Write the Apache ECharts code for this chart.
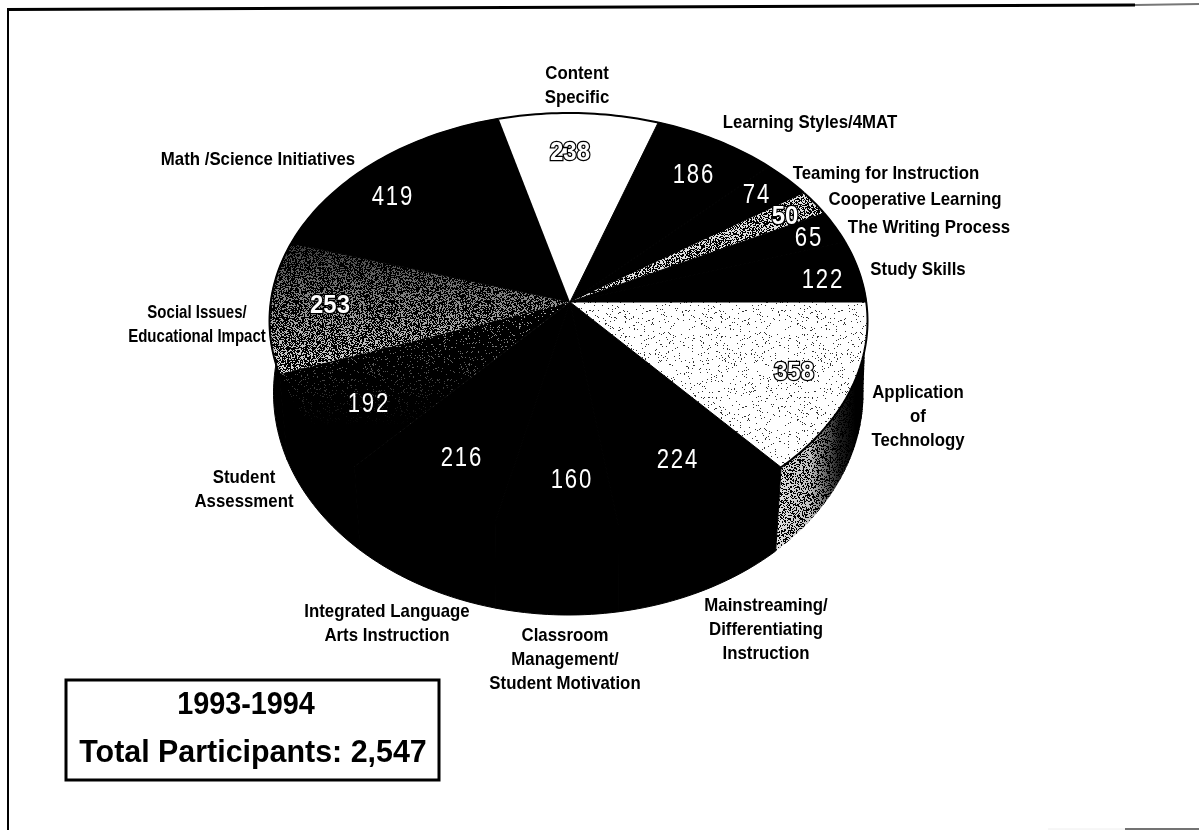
<!DOCTYPE html>
<html lang="en">
<head>
  <meta charset="UTF-8">
  <title>Total Participants 1993-1994</title>
  <script src="https://cdn.jsdelivr.net/npm/echarts@6/dist/echarts.min.js"></script>
  <style>
    * { margin: 0; padding: 0; }
    body { background: #fff; }
    #main { width: 1199px; height: 830px; }
  </style>
</head>
<body>
  <div id="main"></div>
  <script>
    // data, clockwise from 3 o'clock
    var categories = [
      'Application\nof\nTechnology',
      'Mainstreaming/\nDifferentiating\nInstruction',
      'Classroom\nManagement/\nStudent Motivation',
      'Integrated Language\nArts Instruction',
      'Student\nAssessment',
      'Social Issues/\nEducational Impact',
      'Math /Science Initiatives',
      'Content\nSpecific',
      'Learning Styles/4MAT',
      'Teaming for Instruction',
      'Cooperative Learning',
      'The Writing Process',
      'Study Skills'
    ];
    var values = [358, 224, 160, 216, 192, 253, 419, 238, 186, 74, 50, 65, 122];
    var boxLines = ['1993-1994', 'Total Participants: 2,547'];

    // label layout, same order as categories
    var namePos = [[918, 417], [766, 630], [565, 660], [387, 624], [244, 490], [197, 325], [258, 160], [577, 86], [810, 123], [886, 174], [915, 200], [929, 228], [918, 270]];
    var nameScale = [0.885, 0.885, 0.885, 0.885, 0.885, 0.79, 0.885, 0.885, 0.885, 0.885, 0.885, 0.885, 0.885];
    var valuePos = [[794, 373], [677, 461], [571, 481], [461, 459], [368, 405], [330, 306], [392, 198], [570, 153], [693, 176], [756, 196], [785, 217], [808, 239], [822, 281]];
    var outlined = [true, false, false, false, false, true, false, true, false, false, true, false, false];

    // pie geometry, the rim is a true ellipse but the apex sits above its centre (perspective)
    var apex = [570, 302];
    var top_ = { cx: 568.5, cy: 321, rx: 299, ry: 208 };
    var bottom_ = { cx: 568.5, cy: 393, rx: 295, ry: 222 };
    var depth = 88;
    var deg = Math.PI / 180;

    // speckled fills, so the greys look like the scan
    function speckle(density, dark, light) {
      var size = 96;
      var c = document.createElement('canvas');
      c.width = c.height = size;
      var ctx = c.getContext('2d');
      ctx.fillStyle = light;
      ctx.fillRect(0, 0, size, size);
      ctx.fillStyle = dark;
      for (var x = 0; x < size; x++) {
        for (var y = 0; y < size; y++) {
          var h = Math.sin(x * 12.9898 + y * 78.233) * 43758.5453;
          if (h - Math.floor(h) < density) ctx.fillRect(x, y, 1, 1);
        }
      }
      return { image: c, repeat: 'repeat' };
    }

    var fills = [
      speckle(0.05, '#333', '#fff'),
      '#000',
      '#000',
      '#000',
      speckle(0.93, '#000', '#bbb'),
      speckle(0.58, '#000', '#ddd'),
      '#000',
      '#fff',
      '#000',
      '#000',
      speckle(0.5, '#000', '#ddd'),
      '#000',
      '#000'
    ];
    var wallFill = speckle(0.4, '#000', '#e4e4e4');

    var total = values.reduce(function (a, b) { return a + b; }, 0);

    function angleOf(i) {
      var sum = 0;
      for (var k = 0; k < i; k++) sum += values[k];
      return sum / total * Math.PI * 2;
    }

    // the drawn pie is a little off true, pull the angles the way the picture has them
    function warp(a) {
      if (a < Math.PI / 2) return a - 4.6 * deg * Math.sin(2 * a);
      if (a > Math.PI) return a + 1.5 * deg * Math.sin(a);
      return a;
    }

    // where the ray from the apex at angle a meets the ellipse e
    function rimPoint(a, e, ox, oy) {
      var w = warp(a);
      var dx = Math.cos(w) * 299;
      var dy = Math.sin(w) * (Math.sin(w) > 0 ? 227 : 205);
      var fx = (ox - e.cx) / e.rx, fy = (oy - e.cy) / e.ry;
      var gx = dx / e.rx, gy = dy / e.ry;
      var A = gx * gx + gy * gy, B = 2 * (fx * gx + fy * gy), C = fx * fx + fy * fy - 1;
      var t = (-B + Math.sqrt(B * B - 4 * A * C)) / (2 * A);
      return [ox + dx * t, oy + dy * t];
    }

    function arc(a0, a1, e, ox, oy) {
      var pts = [];
      var n = Math.max(2, Math.ceil((a1 - a0) / 0.02));
      for (var j = 0; j <= n; j++) pts.push(rimPoint(a0 + (a1 - a0) * j / n, e, ox, oy));
      return pts;
    }

    function renderWall(params, api) {
      var i = api.value(0);
      var a0 = angleOf(i), a1 = angleOf(i + 1);
      if (a0 > Math.PI * 1.15) return null;
      a1 = Math.min(a1, Math.PI * 1.15);
      var pts = arc(a0, a1, top_, apex[0], apex[1])
        .concat(arc(a0, a1, bottom_, apex[0], apex[1] + depth).reverse());
      if (i !== 0) {
        return { type: 'polygon', shape: { points: pts }, style: { fill: '#000', stroke: '#000', lineWidth: 1 } };
      }
      return {
        type: 'group',
        children: [
          { type: 'polygon', shape: { points: pts }, style: { fill: wallFill } },
          {
            type: 'polygon',
            shape: { points: pts },
            style: {
              fill: new echarts.graphic.LinearGradient(772, 0, 855, 0, [
                { offset: 0, color: 'rgba(0,0,0,0)' },
                { offset: 0.45, color: 'rgba(0,0,0,0.15)' },
                { offset: 0.8, color: 'rgba(0,0,0,0.85)' },
                { offset: 1, color: '#000' }
              ], true)
            }
          }
        ]
      };
    }

    function renderTop(params, api) {
      var i = api.value(0);
      var rim = arc(angleOf(i), angleOf(i + 1), top_, apex[0], apex[1]);
      var pts = [apex].concat(rim);
      var solid = fills[i] === '#000';
      var children = [{
        type: 'polygon',
        shape: { points: pts },
        style: { fill: fills[i], stroke: solid ? '#000' : null, lineWidth: 1 }
      }];
      // student assessment fades to black towards the rim
      if (i === 4) {
        children.push({
          type: 'polygon',
          shape: { points: pts },
          style: {
            fill: new echarts.graphic.LinearGradient(0, 0, 0, 1, [
              { offset: 0, color: 'rgba(0,0,0,0)' },
              { offset: 0.45, color: 'rgba(0,0,0,0.6)' },
              { offset: 0.75, color: '#000' }
            ])
          }
        });
      }
      // social issues is darker along its upper side
      if (i === 5) {
        children.push({
          type: 'polygon',
          shape: { points: pts },
          style: {
            fill: new echarts.graphic.LinearGradient(0, 0, 0, 1, [
              { offset: 0, color: 'rgba(0,0,0,0.75)' },
              { offset: 0.6, color: 'rgba(0,0,0,0.25)' },
              { offset: 1, color: 'rgba(0,0,0,0)' }
            ])
          }
        });
      }
      children.push({
        type: 'polyline',
        shape: { points: rim },
        style: { fill: null, stroke: '#000', lineWidth: 2 }
      });
      return { type: 'group', children: children };
    }

    var narrow = '"Liberation Sans", sans-serif';

    var nameTexts = categories.map(function (name, i) {
      return {
        type: 'text', x: namePos[i][0], y: namePos[i][1], z: 10, scaleX: nameScale[i],
        style: {
          text: name, align: 'center', verticalAlign: 'middle',
          font: 'bold 19px ' + narrow,
          lineHeight: 24, fill: '#000'
        }
      };
    });

    var valueTexts = values.map(function (v, i) {
      return {
        type: 'text', x: valuePos[i][0], y: valuePos[i][1], z: 10,
        scaleX: outlined[i] ? 0.92 : 0.82,
        style: outlined[i] ? {
          text: String(v), align: 'center', verticalAlign: 'middle',
          font: 'bold 26px ' + narrow,
          fill: '#fff', stroke: '#000', lineWidth: 2.6
        } : {
          text: String(v).split('').join('\u200a'), align: 'center', verticalAlign: 'middle',
          font: '27px ' + narrow,
          fill: '#fff'
        }
      };
    });

    var frame = [
      { type: 'line', shape: { x1: 8, y1: 9, x2: 8, y2: 830 }, style: { stroke: '#000', lineWidth: 2 } },
      { type: 'line', shape: { x1: 7, y1: 9.5, x2: 1135, y2: 5 }, style: { stroke: '#000', lineWidth: 3 } },
      { type: 'line', shape: { x1: 1135, y1: 5, x2: 1199, y2: 4 }, style: { stroke: '#777', lineWidth: 2 } },
      { type: 'line', shape: { x1: 1048, y1: 829, x2: 1125, y2: 829 }, style: { stroke: '#eee', lineWidth: 1 } },
      { type: 'line', shape: { x1: 1125, y1: 829, x2: 1199, y2: 829 }, style: { stroke: '#444', lineWidth: 1.5 } },
      { type: 'rect', shape: { x: 66, y: 680, width: 373, height: 100 }, style: { fill: '#fff', stroke: '#000', lineWidth: 3 } },
      {
        type: 'text', x: 246, y: 705, scaleX: 0.9,
        style: { text: boxLines[0], align: 'center', verticalAlign: 'middle', font: 'bold 32px ' + narrow, fill: '#000' }
      },
      {
        type: 'text', x: 253, y: 753, scaleX: 0.95,
        style: { text: boxLines[1], align: 'center', verticalAlign: 'middle', font: 'bold 32px ' + narrow, fill: '#000' }
      }
    ];

    var rows = values.map(function (v, i) { return [i, v]; });

    var myChart = echarts.init(document.getElementById('main'), null, { renderer: 'canvas' });
    myChart.setOption({
      animation: false,
      backgroundColor: '#fff',
      graphic: { elements: frame.concat(nameTexts, valueTexts) },
      series: [
        { type: 'custom', coordinateSystem: 'none', renderItem: renderWall, data: rows, silent: true, z: 1 },
        { type: 'custom', coordinateSystem: 'none', renderItem: renderTop, data: rows, silent: true, z: 2 }
      ]
    });
  </script>
</body>
</html>
